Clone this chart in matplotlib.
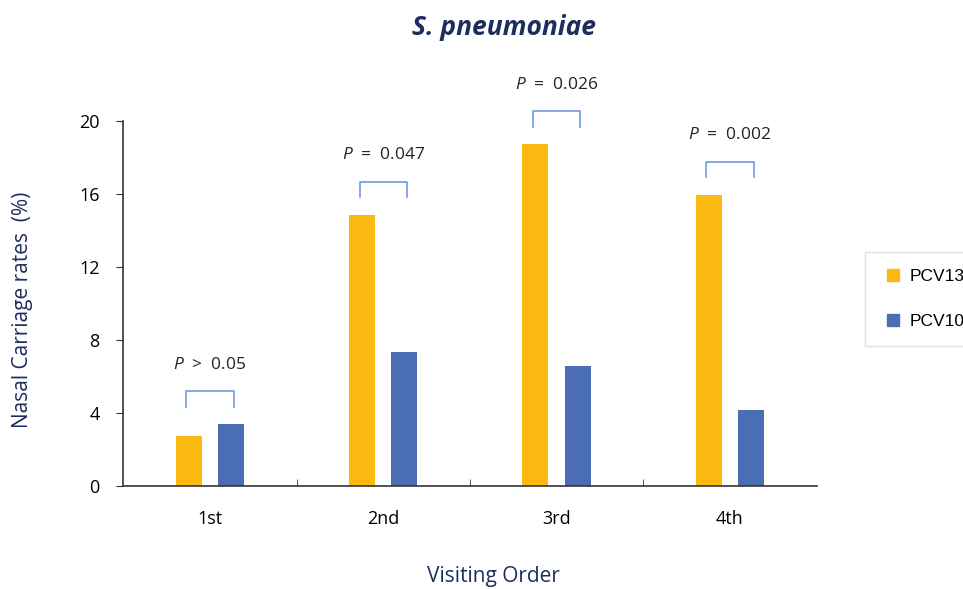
import matplotlib.pyplot as plt
import matplotlib
import numpy as np
from matplotlib.lines import Line2D

matplotlib.rcParams["font.family"] = ["Open Sans", "DejaVu Sans"]
matplotlib.rcParams["mathtext.fontset"] = "custom"
matplotlib.rcParams["mathtext.it"] = "Open Sans:italic"
matplotlib.rcParams["mathtext.rm"] = "Open Sans"

# 方阵数据
visits = ["1st", "2nd", "3rd", "4th"]
pcv13 = [2.75, 14.86, 18.73, 15.96]
pcv10 = [3.39, 7.34, 6.57, 4.15]
p_texts = [">  0.05", "=  0.047", "=  0.026", "=  0.002"]

yellow = "#FBBA12"
blue = "#4A6DB4"
navy = "#1F2D5E"
bracket_color = "#6F9BDB"

fig = plt.figure(figsize=(9.63, 5.89), dpi=100)
ax = fig.add_axes([0.128, 0.175, 0.72, 0.62])

x = np.arange(len(visits))
off = 0.122
w = 0.15
ax.bar(x - off, pcv13, width=w, color=yellow, label="PCV13")
ax.bar(x + off, pcv10, width=w, color=blue, label="PCV10")

# P 值括号
for i in range(len(visits)):
    top = max(pcv13[i], pcv10[i]) + 1.8
    leg = top - 0.85
    xl, xr = x[i] - off - 0.015, x[i] + off + 0.015
    ax.plot([xl, xl, xr, xr], [leg, top, top, leg], color=bracket_color,
            lw=1.2, clip_on=False, solid_joinstyle="round")
    ax.text(x[i], top + 1.45, r"$\mathit{P}$  " + p_texts[i], ha="center",
            va="center", fontsize=12.5, color="#222222", clip_on=False)

ax.set_xlim(-0.5, 3.5)
ax.set_ylim(0, 20)
ax.set_yticks([0, 4, 8, 12, 16, 20])
ax.set_xticks(x)
ax.set_xticklabels(visits)
ax.set_xticks([0.5, 1.5, 2.5], minor=True)
ax.tick_params(axis="x", which="major", length=0, pad=17, labelsize=13)
ax.tick_params(axis="x", which="minor", direction="in", length=5, color="#333333")
ax.tick_params(axis="y", length=5, labelsize=13, pad=12, color="#333333")
for s in ["top", "right"]:
    ax.spines[s].set_visible(False)
for s in ["left", "bottom"]:
    ax.spines[s].set_color("#333333")
    ax.spines[s].set_linewidth(1.2)

fig.text(0.523, 0.953, "S. pneumoniae", ha="center", va="center",
         fontsize=19, fontweight="bold", fontstyle="italic", color=navy)
fig.text(0.023, 0.474, "Nasal Carriage rates  (%)", rotation=90, ha="center",
         va="center", fontsize=15, color=navy)
fig.text(0.512, 0.022, "Visiting Order", ha="center", va="center",
         fontsize=15, color=navy)

handles = [
    Line2D([], [], marker="s", ls="", color=yellow, markersize=8),
    Line2D([], [], marker="s", ls="", color=blue, markersize=8),
]
leg = fig.legend(handles, ["PCV13", "PCV10"], loc="upper left",
                 bbox_to_anchor=(0.889, 0.587), frameon=True, fancybox=False,
                 edgecolor="#d9d9d9", labelspacing=1.7,
                 borderpad=1.0, handletextpad=0.4, handlelength=1.2,
                 prop={"family": "Liberation Sans", "size": 12.5})

fig.savefig("out.png", dpi=100)
